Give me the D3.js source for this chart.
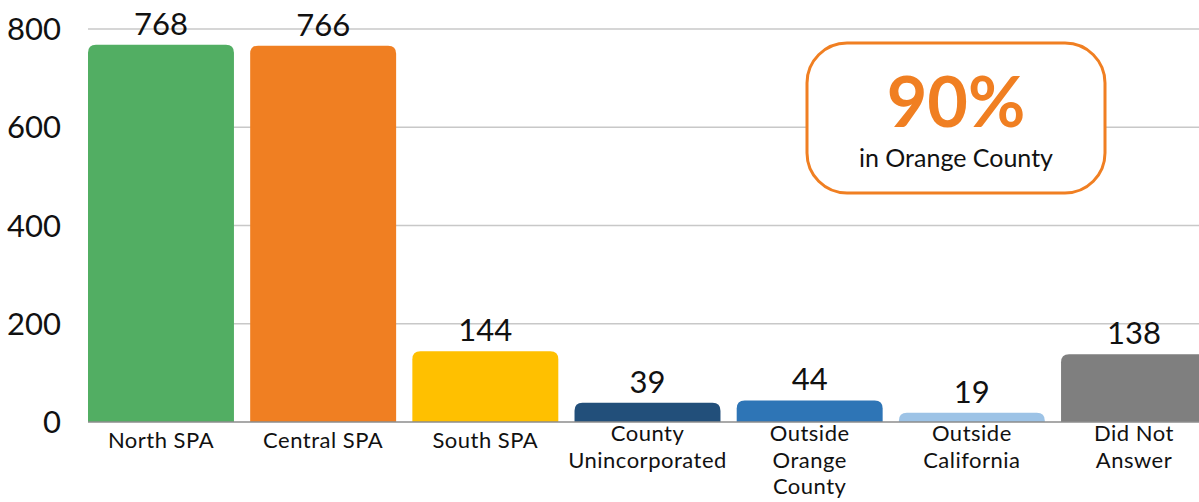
<!DOCTYPE html>
<html>
<head>
<meta charset="utf-8">
<script src="https://cdn.jsdelivr.net/npm/d3@7"></script>
<style>
  html, body { margin: 0; padding: 0; background: #fff; }
  svg { display: block; }
  text { font-family: Lato, "Noto Sans", sans-serif; fill: #111; }
</style>
</head>
<body>
<svg id="chart" width="1199" height="502"></svg>
<script>
// ---- data ----
const categories = ["North SPA", "Central SPA", "South SPA", "County Unincorporated",
  "Outside Orange County", "Outside California", "Did Not Answer"];
const categoryLines = [["North SPA"], ["Central SPA"], ["South SPA"], ["County", "Unincorporated"],
  ["Outside", "Orange", "County"], ["Outside", "California"], ["Did Not", "Answer"]];
const values = [768, 766, 144, 39, 44, 19, 138];
const barColors = ["#52AE63", "#F07F22", "#FFC000", "#224F7A", "#2E75B6", "#9DC3E6", "#7F7F7F"];
const yTicks = [0, 200, 400, 600, 800];
const calloutValue = "90%";
const calloutText = "in Orange County";

// ---- layout ----
const svg = d3.select("#chart");
const x = d3.scaleBand().domain(categories).range([88, 1207]).paddingInner(0.1).paddingOuter(0);
const y = d3.scaleLinear().domain([0, 800]).range([422, 29]);

// gridlines
svg.append("g").selectAll("line").data(yTicks.filter(d => d > 0)).join("line")
  .attr("x1", 88).attr("x2", 1199)
  .attr("y1", d => y(d)).attr("y2", d => y(d))
  .attr("stroke", "#c8c8c8").attr("stroke-width", 1.5);

// y tick labels
svg.append("g").selectAll("text").data(yTicks).join("text")
  .attr("x", 61).attr("y", d => y(d) + 11)
  .attr("text-anchor", "end")
  .style("font-size", "31px")
  .text(d => d);

// bars with rounded top corners
const r = 8;
function barPath(x0, w, yTop, yBase) {
  const rr = Math.min(r, (yBase - yTop), w / 2);
  return `M${x0},${yBase}V${yTop + rr}Q${x0},${yTop} ${x0 + rr},${yTop}H${x0 + w - rr}Q${x0 + w},${yTop} ${x0 + w},${yTop + rr}V${yBase}Z`;
}
svg.append("g").selectAll("path").data(values).join("path")
  .attr("d", (d, i) => barPath(x(categories[i]), x.bandwidth(), y(d), y(0)))
  .attr("fill", (d, i) => barColors[i]);

// baseline
svg.append("line").attr("x1", 88).attr("x2", 1199).attr("y1", y(0)).attr("y2", y(0))
  .attr("stroke", "#8c8c8c").attr("stroke-width", 1.5);

// value labels
svg.append("g").selectAll("text").data(values).join("text")
  .attr("x", (d, i) => x(categories[i]) + x.bandwidth() / 2)
  .attr("y", d => y(d) - 10)
  .attr("text-anchor", "middle")
  .style("font-size", "31px")
  .text(d => d);

// category labels (one text element per line)
const lineH = 26.5;
const catG = svg.append("g");
categories.forEach((c, i) => {
  const cx = x(c) + x.bandwidth() / 2;
  const lines = categoryLines[i];
  const y0 = lines.length === 1 ? 448 : 441;
  catG.selectAll(null).data(lines).join("text")
    .attr("x", cx).attr("y", (d, j) => y0 + j * lineH)
    .attr("text-anchor", "middle")
    .style("font-size", "22px").style("letter-spacing", "0.5px")
    .text(d => d);
});

// callout
const box = svg.append("g");
box.append("rect").attr("x", 807).attr("y", 43).attr("width", 298).attr("height", 150)
  .attr("rx", 40).attr("ry", 40)
  .attr("fill", "#fff").attr("stroke", "#F07F22").attr("stroke-width", 3);
box.append("text").attr("x", 956).attr("y", 127).attr("text-anchor", "middle")
  .style("font-size", "70px").style("font-weight", "bold").style("fill", "#F07F22")
  .text(calloutValue);
box.append("text").attr("x", 956).attr("y", 167).attr("text-anchor", "middle")
  .style("font-size", "25px")
  .text(calloutText);
</script>
</body>
</html>
